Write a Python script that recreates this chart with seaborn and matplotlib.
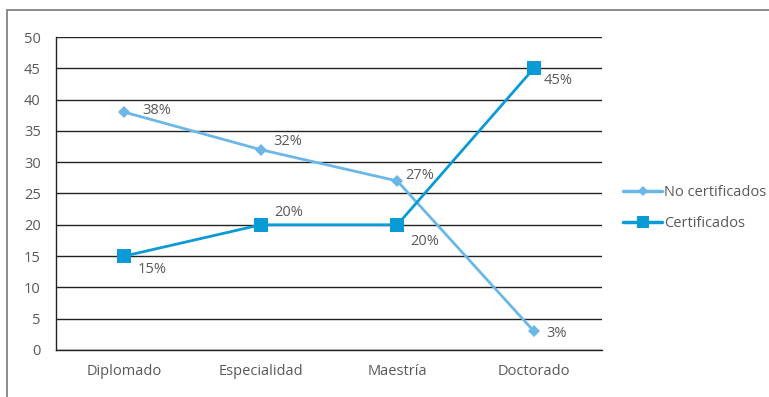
import matplotlib
matplotlib.use("Agg")
import matplotlib.pyplot as plt
from matplotlib.patches import Rectangle
from matplotlib.lines import Line2D
import seaborn as sns
import pandas as pd

niveles = ["Diplomado", "Especialidad", "Maestría", "Doctorado"]
no_certificados = [38, 32, 27, 3]
certificados = [15, 20, 20, 45]
series = ["No certificados", "Certificados"]
colores = {"No certificados": "#6ab7e8", "Certificados": "#0a9bd7"}

df = pd.DataFrame({
    "x": list(range(len(niveles))) * 2,
    "valor": no_certificados + certificados,
    "serie": [series[0]] * len(niveles) + [series[1]] * len(niveles),
})

sns.set_style("white")
plt.rcParams["font.family"] = ["Open Sans", "DejaVu Sans"]
plt.rcParams["text.color"] = "#595959"

fs = 10.5
fig = plt.figure(figsize=(7.69, 3.97), dpi=100)
ax = fig.add_axes([0.0728, 0.1184, 0.7102, 0.7884])

# frame around the whole chart
fig.patches.append(Rectangle((7 / 769, -0.05), 1.1, 1 - 10 / 397 + 0.05,
                             transform=fig.transFigure, fill=False,
                             edgecolor="#777777", linewidth=1.2))

sns.lineplot(data=df, x="x", y="valor", hue="serie", style="serie",
             markers={"No certificados": "D", "Certificados": "s"},
             dashes=False, palette=colores, ax=ax, linewidth=2,
             markeredgewidth=0, legend=False)
for line in ax.lines:
    if line.get_color() == colores["Certificados"]:
        line.set_markersize(10)
    else:
        line.set_markersize(6)

ax.set_xlim(-0.5, len(niveles) - 0.5)
ax.set_ylim(0, 50)
ax.set_yticks(range(0, 51, 5))
ax.set_xticks(range(len(niveles)))
ax.set_xticklabels(niveles)
ax.set_xticks([i + 0.5 for i in range(-1, len(niveles))], minor=True)
ax.tick_params(axis="x", which="major", length=0, pad=10, labelsize=fs, colors="#595959")
ax.tick_params(axis="x", which="minor", length=5, width=1, color="#222222", direction="out")
ax.tick_params(axis="y", length=5, width=1, color="#222222", direction="out", labelsize=fs,
               labelcolor="#595959", pad=6)
ax.grid(axis="y", color="#222222", linewidth=1)
ax.set_axisbelow(True)
ax.set_xlabel("")
ax.set_ylabel("")
for s in ["top", "right"]:
    ax.spines[s].set_visible(False)
for s in ["left", "bottom"]:
    ax.spines[s].set_color("#222222")
    ax.spines[s].set_linewidth(1)

# data labels
off_nc = [(13, 1), (9, 6), (6, 4), (9, -2)]
off_c = [(10, -10), (10, 9), (9, -12), (7, -9)]
for i, v in enumerate(no_certificados):
    ax.annotate(f"{v}%", (i, v), xytext=off_nc[i], textcoords="offset points",
                fontsize=fs, va="center", ha="left")
for i, v in enumerate(certificados):
    ax.annotate(f"{v}%", (i, v), xytext=off_c[i], textcoords="offset points",
                fontsize=fs, va="center", ha="left")

handles = [Line2D([], [], color=colores["No certificados"], marker="D", markersize=5,
                  markeredgewidth=0, linewidth=2.5),
           Line2D([], [], color=colores["Certificados"], marker="s", markersize=9,
                  markeredgewidth=0, linewidth=2.5)]
fig.legend(handles, series, loc="center left", bbox_to_anchor=(0.793, 0.475),
           frameon=False, fontsize=fs, handlelength=2.7, handletextpad=0.12,
           labelspacing=1.1, labelcolor="#595959")

fig.savefig("out.png", dpi=100)
